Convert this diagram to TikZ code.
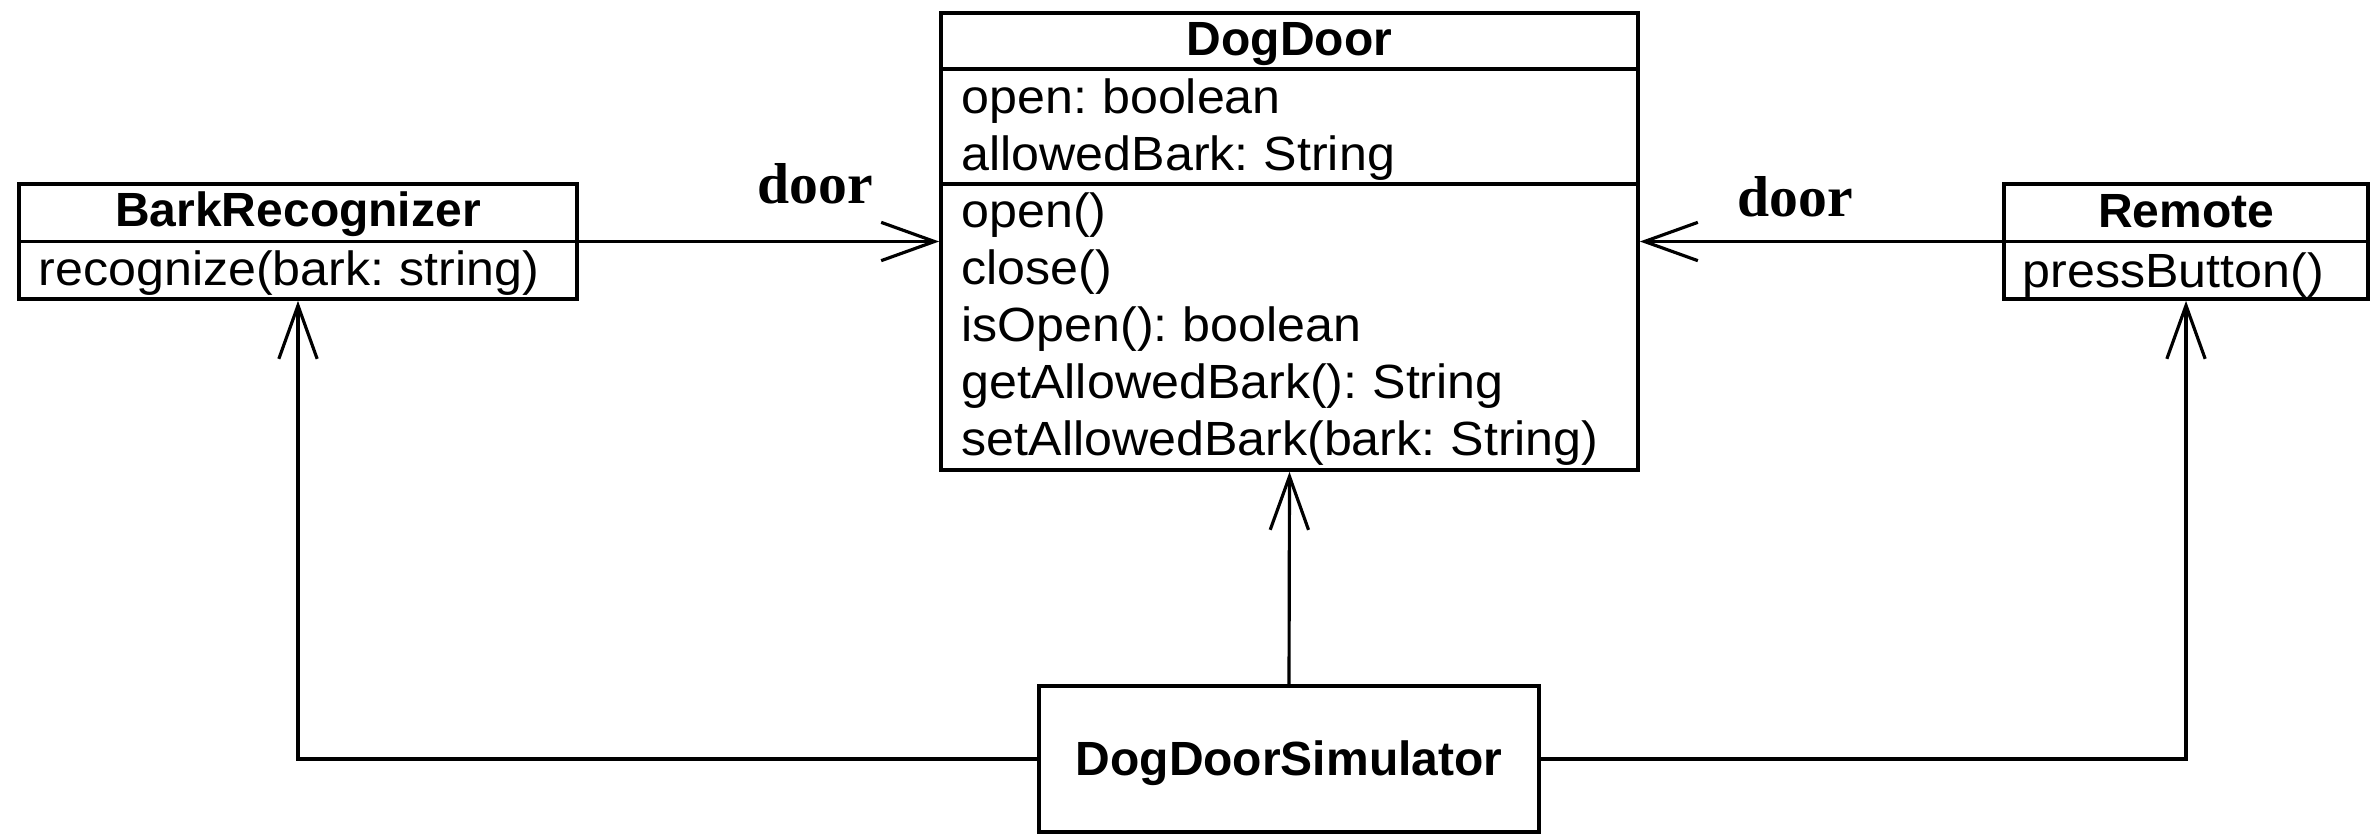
\documentclass[tikz,border=0pt]{standalone}
\usepackage{fontspec}
\setmainfont{Liberation Sans}
\newfontfamily\memberfont{Liberation Sans}[FakeStretch=1.045, WordSpace=0.75]
\newfontfamily\doorfont{Liberation Serif}
\usetikzlibrary{arrows.meta}
\begin{document}
\begin{tikzpicture}[x=0.3pt,y=-0.3pt,
  classbox/.style={draw, line width=1.1pt, inner sep=0pt, rectangle},
  sepline/.style={line width=1.1pt},
  ctitle/.style={inner sep=0pt, anchor=base, font=\fontsize{14.4pt}{17pt}\selectfont\bfseries},
  member/.style={inner sep=0pt, anchor=base west, font=\fontsize{14.4pt}{17pt}\memberfont},
  rolelabel/.style={inner sep=0pt, anchor=base, font=\fontsize{17.3pt}{20pt}\selectfont\doorfont\bfseries},
  assoc/.style={line width=0.95pt, -{Straight Barb[length=16pt,width=11.5pt,line width=0.95pt]}}
]
\useasboundingbox (0,0) rectangle (2370,833);

% class boxes
\node[classbox, minimum width=209.1pt, minimum height=137.1pt] (dogdoor) at (1289.5,241.5) {};
\node[classbox, minimum width=167.4pt, minimum height=34.5pt] (bark) at (298,241.5) {};
\node[classbox, minimum width=109.2pt, minimum height=34.5pt] (remote) at (2186,241.5) {};
\node[classbox, minimum width=150pt, minimum height=43.8pt] (sim) at (1289,759) {};

% separators
\draw[sepline] (dogdoor.west |- 0,69) -- (dogdoor.east |- 0,69);
\draw[sepline] (dogdoor.west |- 0,184) -- (dogdoor.east |- 0,184);
\draw[sepline] (bark.west) -- (bark.east);
\draw[sepline] (remote.west) -- (remote.east);

% DogDoor texts
\node[ctitle] (ddtitle) at (1289.5,55) {DogDoor};
\node[member] (dda1) at (961,113) {open: boolean};
\node[member] (dda2) at (961,170) {allowedBark: String};
\node[member] (ddm1) at (961,227) {open()};
\node[member] (ddm2) at (961,284) {close()};
\node[member] (ddm3) at (961,341) {isOpen(): boolean};
\node[member] (ddm4) at (961,398) {getAllowedBark(): String};
\node[member] (ddm5) at (961,455) {setAllowedBark(bark: String)};

% BarkRecognizer texts
\node[ctitle] (barktitle) at (298,226) {BarkRecognizer};
\node[member] (barkm1) at (38,285) {recognize(bark: string)};

% Remote texts
\node[ctitle] (remotetitle) at (2186,227) {Remote};
\node[member] (remotem1) at (2022,287) {pressButton()};

% Simulator text
\node[ctitle] (simtitle) at (1289,775) {DogDoorSimulator};

% role labels
\node[rolelabel] (door1) at (815,203) {door};
\node[rolelabel] (door2) at (1795,216) {door};

% connectors
\draw[assoc] (bark.east) -- (dogdoor.west |- bark.east);
\draw[assoc] (remote.west) -- (dogdoor.east |- remote.west);
\draw[assoc] (sim.north) -- (dogdoor.south);
\draw[assoc] (sim.west) -| (bark.south);
\draw[assoc] (sim.east) -| (remote.south);
\end{tikzpicture}
\end{document}
